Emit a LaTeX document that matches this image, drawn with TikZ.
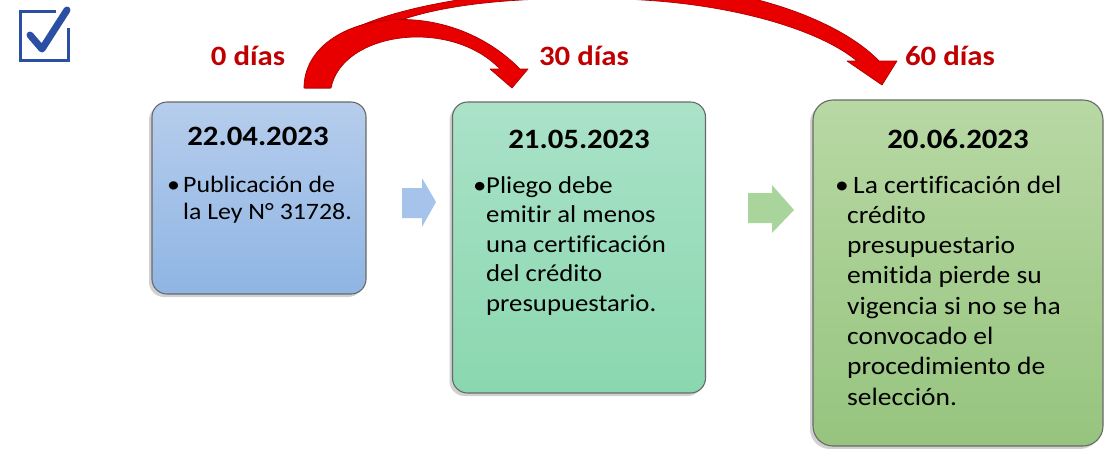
\documentclass[tikz,border=0pt]{standalone}
\usepackage{fontspec}
\setmainfont[FakeStretch=1.1,Ligatures={NoCommon}]{Carlito}
\usetikzlibrary{shadows}
\definecolor{dayred}{RGB}{192,0,0}
\definecolor{arrred}{RGB}{232,0,0}
\definecolor{arredge}{RGB}{170,0,0}
\definecolor{chkblue}{RGB}{43,80,163}
\definecolor{boxline}{RGB}{105,105,105}
\definecolor{btop}{RGB}{182,205,236}
\definecolor{bbot}{RGB}{143,181,228}
\definecolor{gtop}{RGB}{170,226,200}
\definecolor{gbot}{RGB}{138,215,175}
\definecolor{ltop}{RGB}{184,216,164}
\definecolor{lbot}{RGB}{150,196,126}
\definecolor{barrow}{RGB}{166,195,235}
\definecolor{garrow}{RGB}{169,212,155}
\begin{document}
\begin{tikzpicture}[x=1pt,y=-1pt,
  boxbase/.style={rounded corners=15pt, draw=boxline, line width=1.1pt, inner sep=0pt,
    drop shadow={shadow xshift=-3pt, shadow yshift=-3pt, opacity=.3, fill=black!60}},
  datetitle/.style={font=\bfseries\fontsize{28}{32}\selectfont, anchor=base, inner sep=0pt},
  daylabel/.style={font=\bfseries\fontsize{28}{32}\selectfont, text=dayred, anchor=base, inner sep=0pt},
  bodyA/.style={font=\fontsize{23.5}{28}\selectfont, anchor=base west, inner sep=0pt},
  bodyB/.style={font=\fontsize{24.3}{29}\selectfont, anchor=base west, inner sep=0pt},
  bodyC/.style={font=\fontsize{25}{30}\selectfont, anchor=base west, inner sep=0pt},
  redarrow/.style={fill=arrred, draw=arredge, line width=0.7pt, line join=round},
  chk/.style={draw=chkblue}
]
\useasboundingbox (0,0) rectangle (1105,448);
\clip (0,0) rectangle (1105,448);

% check icon
\draw[chk, line width=3pt] (56,11.5) -- (20,11.5) -- (20,60.5) -- (68.5,60.5) -- (68.5,28);
\draw[chk, line width=7pt, line cap=round, line join=round] (30,35) -- (42,49) -- (67,10);

% boxes
\node[boxbase, top color=btop, bottom color=bbot, minimum width=214pt, minimum height=192pt] (box1) at (259,198) {};
\node[boxbase, top color=gtop, bottom color=gbot, minimum width=253pt, minimum height=291pt] (box2) at (579,247.5) {};
\node[boxbase, rounded corners=20pt, top color=ltop, bottom color=lbot, minimum width=290pt, minimum height=346pt] (box3) at (958,273) {};

% small block arrows
\fill[barrow] (402,188) -- (422,188) -- (422,178) -- (436,202) -- (422,227) -- (422,218) -- (402,218) -- cycle;
\fill[garrow] (748,193) -- (772,193) -- (772,185) -- (794,210) -- (772,233) -- (772,223) -- (748,223) -- cycle;

% red curved arrows
\path[redarrow] (305,88) .. controls (303,20) and (440,-8) .. (625,-15) .. controls (740,-18) and (840,20) .. (879,61)
  -- (897,61) -- (882,85) -- (847,61) -- (857,61)
  .. controls (820,30) and (730,2) .. (620,-1) .. controls (480,-5) and (340,10) .. (330,88) -- cycle;
\path[redarrow] (304,88) .. controls (304,15) and (440,-12) .. (520,69)
  -- (528,69) -- (512,88) -- (490,69) -- (500,69)
  .. controls (450,17) and (342,32) .. (331,88) -- cycle;

% day labels
\node[daylabel] (d0) at (248,65) {0 días};
\node[daylabel] (d30) at (584,65) {30 días};
\node[daylabel] (d60) at (950,65) {60 días};

% titles
\node[datetitle] (t1) at (258,145) {22.04.2023};
\node[datetitle] (t2) at (579,148) {21.05.2023};
\node[datetitle] (t3) at (958,148) {20.06.2023};

% box 1 text
\node[bodyA] (p1) at (167,192) {•};
\foreach \t [count=\i from 0] in {Publicación de, la Ley N° 31728.}
  \node[bodyA] (a\i) at (183,{192+\i*27.5}) {\t};

% box 2 text
\node[bodyB] (p2) at (473,193) {•};
\foreach \t [count=\i from 0] in {Pliego debe, emitir al menos, una certificación, del crédito, presupuestario.}
  \node[bodyB] (b\i) at (486,{193+\i*29.5}) {\t};

% box 3 text
\node[bodyC] (p3) at (835,193) {•};
\node[bodyC] (c0) at (853,193) {La certificación del};
\foreach \t [count=\i from 1] in {crédito, presupuestario, emitida pierde su, vigencia si no se ha, convocado el, procedimiento de, selección.}
  \node[bodyC] (c\i) at (847,{193+\i*30.3}) {\t};
\end{tikzpicture}
\end{document}
